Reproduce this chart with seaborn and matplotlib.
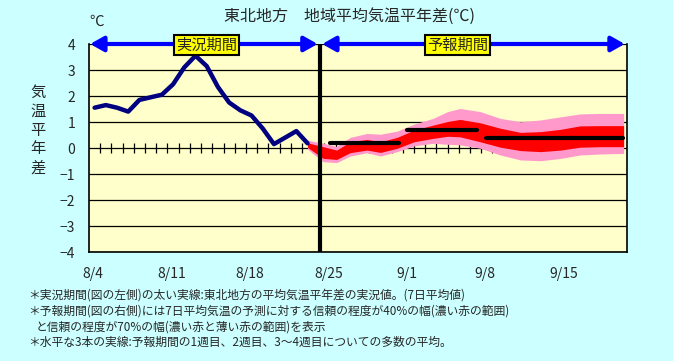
import numpy as np
import pandas as pd
import matplotlib
matplotlib.use("Agg")
import matplotlib.pyplot as plt
import seaborn as sns
from matplotlib.transforms import ScaledTranslation

# observed 7-day mean anomaly (days counted from 8/4)
obs_day = [0.5, 1.5, 2.5, 3.5, 4.5, 5.5, 6.5, 7.5, 8.5, 9.5,
           10.5, 11.5, 12.5, 13.5, 14.5, 15.5, 16.5, 17.5, 18.5, 19.5]
obs_val = [1.55, 1.65, 1.55, 1.40, 1.85, 1.95, 2.05, 2.45, 3.10, 3.55,
           3.15, 2.35, 1.75, 1.45, 1.25, 0.75, 0.15, 0.40, 0.65, 0.18]

# forecast ranges
band_day = [19.5, 20.9, 22.1, 23.3, 24.8, 26.0, 27.5, 29.0, 30.7, 32.0,
            33.1, 34.9, 36.7, 38.5, 40.3, 42.1, 43.8, 45.6, 47.7]
pink_hi = [0.30, 0.18, 0.06, 0.41, 0.56, 0.53, 0.65, 0.92, 1.14, 1.40,
           1.52, 1.40, 1.14, 1.01, 1.08, 1.20, 1.31, 1.33, 1.33]
red_hi = [0.20, 0.05, -0.08, 0.24, 0.33, 0.24, 0.41, 0.69, 0.88, 1.02,
          1.10, 0.97, 0.76, 0.60, 0.63, 0.72, 0.85, 0.86, 0.86]
red_lo = [0.02, -0.40, -0.44, -0.18, -0.08, -0.17, -0.01, 0.24, 0.37, 0.45,
          0.43, 0.24, 0.03, -0.10, -0.14, -0.08, 0.03, 0.05, 0.05]
pink_lo = [-0.05, -0.53, -0.56, -0.31, -0.18, -0.31, -0.14, 0.08, 0.18, 0.14,
           0.12, -0.01, -0.27, -0.46, -0.49, -0.40, -0.27, -0.23, -0.21]

# weekly ensemble means
week_start = [21.5, 28.4, 35.4]
week_end = [27.7, 34.6, 47.6]
week_mean = [0.18, 0.70, 0.40]

tick_days = [0, 7, 14, 21, 28, 35, 42]
tick_labels = ["8/4", "8/11", "8/18", "8/25", "9/1", "9/8", "9/15"]
split_day = 20.6
last_day = 48

notes = [
    "＊実況期間(図の左側)の太い実線:東北地方の平均気温平年差の実況値。(7日平均値)",
    "＊予報期間(図の右側)には7日平均気温の予測に対する信頼の程度が40%の幅(濃い赤の範囲)",
    "と信頼の程度が70%の幅(濃い赤と薄い赤の範囲)を表示",
    "＊水平な3本の実線:予報期間の1週目、2週目、3～4週目についての多数の平均。",
]

sns.set_style("white")
plt.rcParams["font.family"] = ["Noto Sans CJK JP", "DejaVu Sans"]
plt.rcParams["axes.unicode_minus"] = True

W, H = 673, 361
fig = plt.figure(figsize=(W / 100, H / 100), dpi=100, facecolor="#ccffff")
ax = fig.add_axes([89 / W, 1 - 252 / H, (627 - 89) / W, (252 - 44) / H])
ax.set_facecolor("#ffffcc")

obs_df = pd.DataFrame({"day": obs_day, "val": obs_val})
week_df = pd.DataFrame({
    "week": np.repeat([0, 1, 2], 2),
    "day": np.ravel(list(zip(week_start, week_end))),
    "val": np.repeat(week_mean, 2),
})

# grid and daily ticks on the zero line
ax.set_yticks(range(-4, 5))
ax.yaxis.grid(True, color="black", lw=0.9)
ax.set_axisbelow(True)
ax.vlines(np.arange(1, last_day), -0.2, 0.2, color="black", lw=0.9, zorder=1.5)

ax.fill_between(band_day, pink_lo, pink_hi, color="#ff99cc", lw=0, zorder=2)
ax.fill_between(band_day, red_lo, red_hi, color="#ff0000", lw=0, zorder=3)

sns.lineplot(data=obs_df, x="day", y="val", color="#000080", lw=3.2,
             ax=ax, zorder=4, solid_capstyle="round")
sns.lineplot(data=week_df, x="day", y="val", units="week", estimator=None,
             color="black", lw=3.0, ax=ax, zorder=5, solid_capstyle="round")

ax.axvline(split_day, color="black", lw=3, zorder=6)

# period arrows
arrow = dict(arrowstyle="<|-|>,head_length=0.8,head_width=0.45", lw=3,
             color="#0000ff", shrinkA=0, shrinkB=0)
ax.annotate("", xy=(0.1, 4), xytext=(split_day - 0.2, 4), arrowprops=arrow,
            annotation_clip=False, zorder=7)
ax.annotate("", xy=(split_day + 0.2, 4), xytext=(last_day - 0.2, 4), arrowprops=arrow,
            annotation_clip=False, zorder=7)
box = dict(boxstyle="square,pad=0.12", fc="#ffff00", ec="black", lw=1.5)
ax.text(10.5, 3.96, "実況期間", ha="center", va="center", fontsize=11, bbox=box, zorder=8)
ax.text(32.9, 3.96, "予報期間", ha="center", va="center", fontsize=11, bbox=box, zorder=8)

ax.set_xlim(0, last_day)
ax.set_ylim(-4, 4)
ax.set_xticks(tick_days)
ax.set_xticklabels(tick_labels)
ax.set_xlabel("")
ax.set_ylabel("")
ax.tick_params(axis="x", direction="inout", length=7, width=1, pad=7, labelsize=10)
ax.tick_params(axis="y", length=0, pad=10, labelsize=10)
for lab in ax.get_xticklabels():
    lab.set_transform(lab.get_transform() + ScaledTranslation(4 / 100, 0, fig.dpi_scale_trans))
for side in ["left", "bottom", "right"]:
    ax.spines[side].set_color("black")
    ax.spines[side].set_linewidth(1.2)
ax.spines["top"].set_visible(False)

fig.text(350 / W, 1 - 16 / H, "東北地方　地域平均気温平年差(℃)", ha="center", va="center", fontsize=11.5)
fig.text(97 / W, 1 - 22 / H, "℃", ha="center", va="center", fontsize=10.5)
fig.text(38 / W, 1 - 130 / H, "\n".join("気温平年差"), ha="center", va="center",
         fontsize=11, linespacing=1.15)

note_pos = [(28, 295), (28, 311), (36, 327), (28, 342)]
for (nx, ny), txt in zip(note_pos, notes):
    fig.text(nx / W, 1 - ny / H, txt, ha="left", va="center", fontsize=8.5)

fig.savefig("out.png", dpi=100, facecolor=fig.get_facecolor())
